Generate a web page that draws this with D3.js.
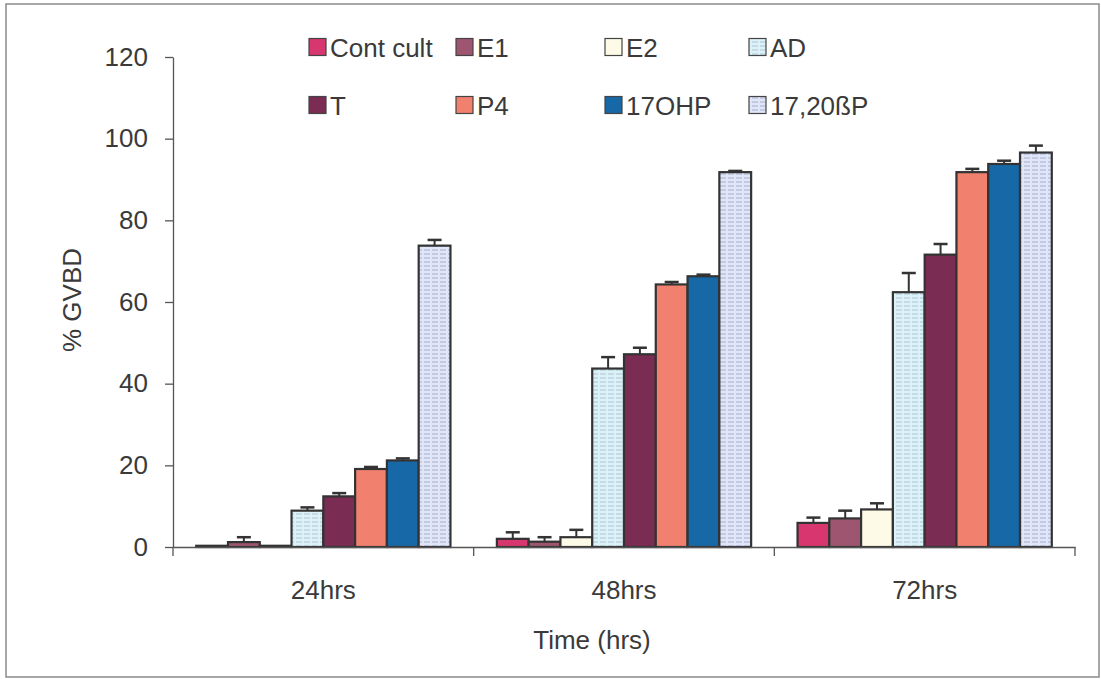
<!DOCTYPE html>
<html>
<head>
<meta charset="utf-8">
<script src="https://cdn.jsdelivr.net/npm/d3@7"></script>
<style>
  html, body { margin: 0; padding: 0; background: #fff; }
  svg { display: block; font-family: Arial, "Liberation Sans", sans-serif; }
</style>
</head>
<body>
<svg id="chart" width="1101" height="679"></svg>
<script>
// Time points (x categories)
const categories = ["24hrs", "48hrs", "72hrs"];

// Treatments, in bar order within each time point
const seriesNames = ["Cont cult", "E1", "E2", "AD", "T", "P4", "17OHP", "17,20ßP"];

// Mean % GVBD per treatment at 24, 48, 72 hrs
const contCult = [0.3, 2.0, 5.9];
const e1       = [1.2, 1.3, 7.0];
const e2       = [0.3, 2.4, 9.2];
const ad       = [8.9, 43.7, 62.4];
const t        = [12.4, 47.2, 71.6];
const p4       = [19.1, 64.3, 91.8];
const ohp17    = [21.2, 66.3, 93.8];
const p1720    = [73.8, 91.8, 96.6];

// Standard errors (upper whisker length)
const contCultErr = [0, 1.6, 1.3];
const e1Err       = [1.2, 1.1, 1.9];
const e2Err       = [0, 1.8, 1.5];
const adErr       = [0.8, 2.8, 4.7];
const tErr        = [0.8, 1.6, 2.6];
const p4Err       = [0.5, 0.6, 0.8];
const ohp17Err    = [0.5, 0.4, 0.8];
const p1720Err    = [1.4, 0.3, 1.7];

// Y axis tick labels
const yTicks = [0, 20, 40, 60, 80, 100, 120];

const seriesValues = [contCult, e1, e2, ad, t, p4, ohp17, p1720];
const seriesErrors = [contCultErr, e1Err, e2Err, adErr, tErr, p4Err, ohp17Err, p1720Err];

const fills = ["#d8366e", "#9e5670", "#fdfbe8", "url(#hatchAD)", "#7a2c53", "#f2806f", "#1768a6", "url(#hatchP)"];

const rows = [];
categories.forEach((c, ci) => {
  seriesNames.forEach((s, si) => {
    rows.push({ cat: c, series: s, si, value: seriesValues[si][ci], err: seriesErrors[si][ci] });
  });
});

const svg = d3.select("#chart");
const plotLeft = 173, plotRight = 1075, plotTop = 57, plotBottom = 547;

// Outer frame
svg.append("rect")
  .attr("x", 6).attr("y", 4).attr("width", 1093).attr("height", 673)
  .attr("fill", "#fff").attr("stroke", "#8a8a8a").attr("stroke-width", 1.5);

// Striped fills for AD and 17,20ßP
const defs = svg.append("defs");
function stripe(id, base, line) {
  const p = defs.append("pattern").attr("id", id)
    .attr("patternUnits", "userSpaceOnUse").attr("width", 8).attr("height", 4);
  p.append("rect").attr("width", 8).attr("height", 4).attr("fill", base);
  p.append("line").attr("x1", 0).attr("x2", 6).attr("y1", 2).attr("y2", 2)
    .attr("stroke", line).attr("stroke-width", 1);
}
stripe("hatchAD", "#dcf2f8", "#a9c4d2");
stripe("hatchP", "#e0e5f8", "#a5b0d0");

const x0 = d3.scaleBand().domain(categories).range([plotLeft, plotRight]).paddingInner(0).paddingOuter(0);
const x1 = d3.scaleBand().domain(seriesNames).range([0, x0.bandwidth()]).paddingInner(0).paddingOuter(0.73);
const y = d3.scaleLinear().domain([0, 120]).range([plotBottom, plotTop]);

const ink = "#3a3a3a";

// Y axis
const yAxis = svg.append("g").attr("transform", `translate(${plotLeft},0)`)
  .call(d3.axisLeft(y).tickValues(yTicks).tickSize(8).tickSizeOuter(0).tickPadding(17));
yAxis.select(".domain").attr("stroke", "#555").attr("stroke-width", 1.3);
yAxis.selectAll(".tick line").attr("stroke", "#555").attr("stroke-width", 1.3);
yAxis.selectAll("text").attr("font-size", 26).attr("fill", ink)
  .attr("font-family", "Arial, 'Liberation Sans', sans-serif");

// Bars
const g = svg.append("g");
g.selectAll("rect.bar").data(rows).join("rect")
  .attr("class", "bar")
  .attr("x", d => x0(d.cat) + x1(d.series))
  .attr("y", d => y(d.value))
  .attr("width", x1.bandwidth())
  .attr("height", d => y(0) - y(d.value))
  .attr("fill", d => fills[d.si])
  .attr("stroke", "#333").attr("stroke-width", 2.2);

// Error bars (upper whisker with cap)
const eb = rows.filter(d => d.err > 0);
g.selectAll("line.whisker").data(eb).join("line")
  .attr("class", "whisker")
  .attr("x1", d => x0(d.cat) + x1(d.series) + x1.bandwidth() / 2)
  .attr("x2", d => x0(d.cat) + x1(d.series) + x1.bandwidth() / 2)
  .attr("y1", d => y(d.value))
  .attr("y2", d => y(d.value + d.err))
  .attr("stroke", "#333").attr("stroke-width", 2);
g.selectAll("line.cap").data(eb).join("line")
  .attr("class", "cap")
  .attr("x1", d => x0(d.cat) + x1(d.series) + x1.bandwidth() / 2 - 7)
  .attr("x2", d => x0(d.cat) + x1(d.series) + x1.bandwidth() / 2 + 7)
  .attr("y1", d => y(d.value + d.err))
  .attr("y2", d => y(d.value + d.err))
  .attr("stroke", "#333").attr("stroke-width", 2.5);

// X axis: baseline, boundary ticks, category labels
const xAxis = svg.append("g").attr("transform", `translate(0,${plotBottom})`)
  .call(d3.axisBottom(x0).tickSize(0).tickPadding(34).tickSizeOuter(0));
xAxis.select(".domain").attr("stroke", "#555").attr("stroke-width", 1.3);
xAxis.selectAll("text").attr("font-size", 26).attr("fill", ink)
  .attr("font-family", "Arial, 'Liberation Sans', sans-serif");
const bounds = categories.map(c => x0(c)).concat([x0(categories[categories.length - 1]) + x0.bandwidth()]);
xAxis.selectAll("line.bound").data(bounds).join("line")
  .attr("class", "bound")
  .attr("x1", d => d).attr("x2", d => d).attr("y1", 0).attr("y2", 9)
  .attr("stroke", "#555").attr("stroke-width", 1.3);

// Axis titles
svg.append("text")
  .attr("x", 592).attr("y", 649)
  .attr("text-anchor", "middle").attr("font-size", 26).attr("fill", ink)
  .text("Time (hrs)");
svg.append("text")
  .attr("transform", "translate(81,300) rotate(-90)")
  .attr("text-anchor", "middle").attr("font-size", 26).attr("fill", ink)
  .text("% GVBD");

// Legend: two rows of four
const legendX = [309, 456, 605, 749];
const legendY = [47, 105];
const lg = svg.append("g");
seriesNames.forEach((s, i) => {
  const lx = legendX[i % 4], ly = legendY[Math.floor(i / 4)];
  lg.append("rect")
    .attr("x", lx).attr("y", ly - 8.5).attr("width", 17).attr("height", 17)
    .attr("fill", fills[i]).attr("stroke", "#444").attr("stroke-width", 1.2);
  lg.append("text")
    .attr("x", lx + 21).attr("y", ly + 9.5)
    .attr("font-size", 26).attr("fill", ink)
    .text(s);
});
</script>
</body>
</html>
